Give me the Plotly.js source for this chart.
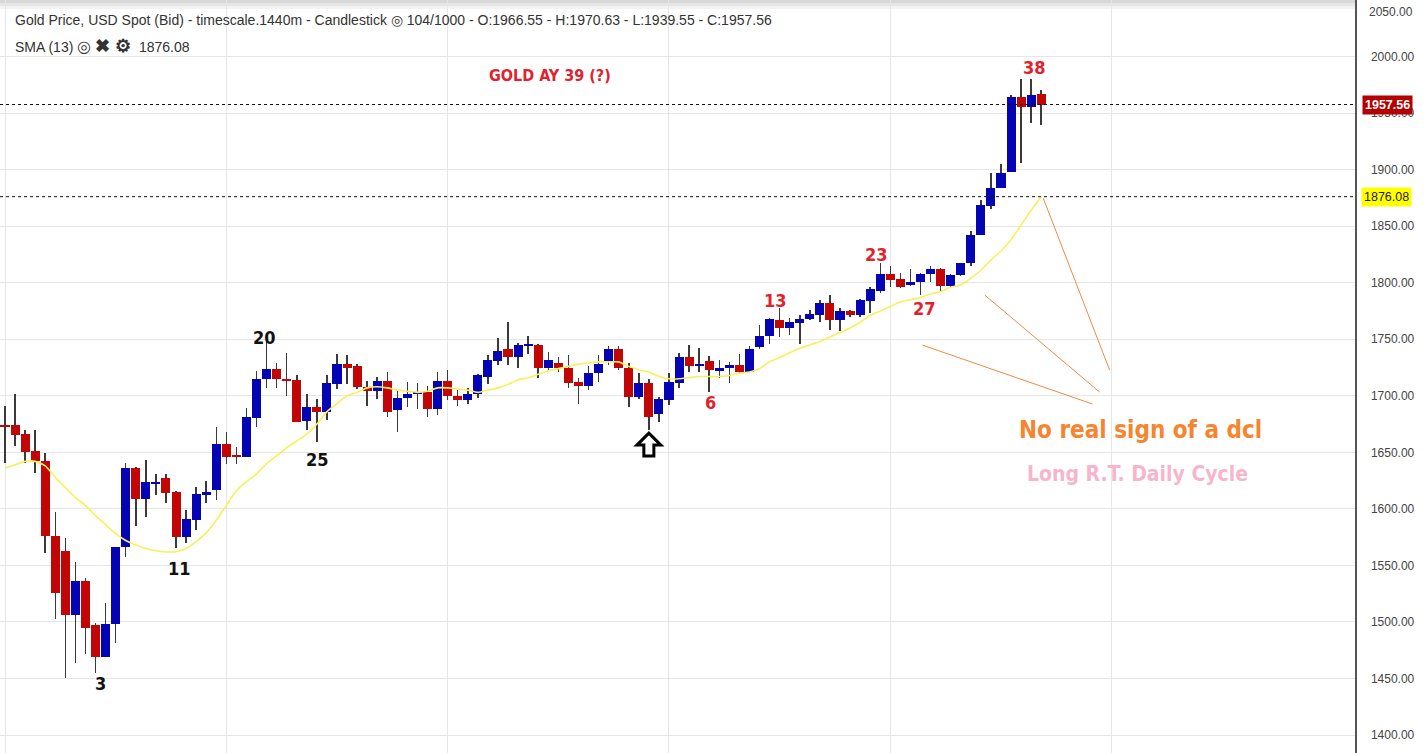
<!DOCTYPE html>
<html>
<head>
<meta charset="utf-8">
<script src="https://cdn.plot.ly/plotly-3.0.1.min.js"></script>
<style>
html,body{margin:0;padding:0;background:#fff;}
#chart{width:1426px;height:753px;}
</style>
</head>
<body>
<div id="chart"></div>
<script>
// ---- Data (daily gold candles, 104 bars) ----
const opens = [1674,1674,1666,1651,1642,1576,1563,1506,1536,1497,1469,1498,1566,1636,1609,1622,1627,1615,1575,1590,
1612,1617,1657,1648,1646,1680,1715,1724,1715,1714,1678,1690,1686,1710,1728,1726,1708,1704,1713,1687,
1698,1702,1703,1688,1713,1700,1696,1702,1717,1731,1741,1734,1744,1745,1725,1729,1725,1712,1709,1720,
1730,1741,1725,1699,1711,1684,1696,1711,1734,1726,1731,1722,1725,1727,1721,1743,1753,1767,1760,1764,
1768,1771,1782,1767,1775,1771,1784,1793,1808,1803,1798,1801,1808,1812,1797,1807,1817,1842,1868,1884,
1898,1964,1955,1966.55];
const highs = [1691,1702,1670,1670,1649,1597,1574,1553,1539,1499,1517,1566,1641,1637,1643,1631,1631,1616,1599,1619,
1625,1672,1668,1655,1689,1722,1755,1729,1738,1718,1702,1697,1718,1737,1736,1728,1713,1717,1721,1705,
1712,1711,1709,1721,1723,1705,1707,1719,1736,1751,1765,1747,1753,1746,1739,1734,1736,1716,1726,1736,
1744,1744,1729,1720,1715,1699,1720,1738,1745,1742,1735,1732,1730,1737,1744,1763,1769,1778,1769,1771,
1776,1785,1789,1778,1776,1786,1796,1817,1815,1809,1812,1809,1815,1813,1808,1817,1846,1873,1897,1905,
1966,1980,1980,1970.63];
const lows = [1641,1656,1641,1632,1561,1503,1450,1464,1472,1455,1469,1481,1557,1585,1593,1612,1605,1565,1570,1581,
1605,1608,1640,1640,1646,1672,1707,1707,1700,1677,1670,1659,1679,1706,1710,1706,1691,1697,1681,1668,
1690,1688,1681,1683,1696,1691,1693,1698,1710,1727,1727,1725,1737,1716,1723,1721,1707,1693,1705,1712,
1727,1723,1690,1697,1670,1677,1692,1707,1721,1721,1703,1716,1711,1720,1721,1741,1746,1752,1754,1746,
1767,1765,1758,1757,1770,1770,1773,1791,1796,1795,1797,1789,1801,1793,1796,1806,1815,1842,1865,1884,
1898,1906,1941,1939.55];
const closes = [1672,1665,1650,1642,1576,1526,1506,1536,1495,1469,1498,1566,1636,1609,1624,1624,1614,1575,1591,1613,
1615,1657,1646,1646,1681,1715,1724,1715,1713,1677,1690,1686,1711,1728,1725,1708,1704,1713,1686,1698,
1702,1703,1688,1713,1700,1696,1702,1718,1732,1740,1734,1745,1746,1725,1732,1725,1711,1709,1720,1728,
1741,1725,1699,1711,1681,1697,1712,1734,1726,1728,1723,1725,1727,1721,1741,1753,1768,1760,1765,1768,
1772,1782,1767,1775,1771,1785,1794,1808,1802,1796,1801,1808,1812,1797,1807,1817,1842,1869,1884,1897,
1964,1955,1966,1957.56];
const sma13 = [1636,1639,1642,1642,1638,1628,1619,1610,1603,1594,1586,1578,1572,1568,1565,1563,1562,1562,1565,1571,
1579,1590,1603,1616,1624,1631,1640,1647,1654,1660,1666,1675,1686,1693,1700,1703,1707,1708,1707,1705,
1704,1703,1704,1707,1707,1706,1705,1703,1705,1707,1710,1714,1716,1719,1722,1724,1726,1728,1729,1730,
1730,1730,1726,1723,1721,1717,1715,1715,1716,1717,1717,1717,1718,1720,1721,1724,1730,1734,1738,1742,
1745,1748,1752,1756,1760,1765,1771,1775,1779,1783,1785,1787,1790,1792,1796,1798,1804,1811,1820,1828,
1838,1851,1864,1876.08];
const yTickValues = [1400,1450,1500,1550,1600,1650,1700,1750,1800,1850,1900,1950,2000];
const yTickLabels = ["1400.00","1450.00","1500.00","1550.00","1600.00","1650.00","1700.00","1750.00","1800.00","1850.00","1900.00","1950.00","2000.00"];
const lastClose = 1957.56;
const lastSma = 1876.08;
const headerLine1 = "Gold Price, USD Spot (Bid) - timescale.1440m - Candlestick &#9678; 104/1000 - O:1966.55 - H:1970.63 - L:1939.55 - C:1957.56";
const headerLine2 = "SMA (13) <span style=\"font-size:16px\">&#9678;</span> <span style=\"font-size:18px\"><b>&#10006; &#9881;</b></span>  1876.08";

// ---- Build traces ----
const idx = opens.map((_, i) => i);
const BLUE = '#0404b4', RED = '#c20606';
const bodyBase = opens.map((o, i) => Math.min(o, closes[i]));
const bodyLen = opens.map((o, i) => Math.max(Math.abs(closes[i] - o), 1.0));
const bodyCol = opens.map((o, i) => closes[i] >= o ? BLUE : RED);

const wicks = {
  type: 'bar', x: idx, base: lows, y: highs.map((h, i) => h - lows[i]),
  width: 0.15, marker: {color: '#3a3a3a', line: {width: 0}}, hoverinfo: 'skip', showlegend: false
};
const bodies = {
  type: 'bar', x: idx, base: bodyBase, y: bodyLen,
  width: 0.9, marker: {color: bodyCol, line: {width: 0}}, hoverinfo: 'skip', showlegend: false
};
const smaTrace = {
  type: 'scatter', mode: 'lines', x: idx, y: sma13,
  line: {color: '#f8f05a', width: 1.6, shape: 'spline', smoothing: 0.6}, hoverinfo: 'skip', showlegend: false
};

const NARROW = '"Liberation Sans Narrow","Arial Narrow","DejaVu Sans Condensed",sans-serif';
const SANS = '"Liberation Sans",Arial,sans-serif';
const RED_TXT = '#e0222e';

function lbl(text, x, y, color, size) {
  return {text: '<b>' + text + '</b>', x: x, y: y, xref: 'x', yref: 'y', showarrow: false,
    font: {family: NARROW, size: size || 18, color: color}, xanchor: 'center', yanchor: 'middle'};
}

const annotations = [
  {text: headerLine1, xref: 'paper', yref: 'paper', x: 0, y: 1, xanchor: 'left', yanchor: 'middle',
   xshift: 13, yshift: -20, showarrow: false, font: {family: SANS, size: 14, color: '#333'}},
  {text: headerLine2, xref: 'paper', yref: 'paper', x: 0, y: 1, xanchor: 'left', yanchor: 'middle',
   xshift: 13, yshift: -46, showarrow: false, font: {family: SANS, size: 14, color: '#333'}},
  {text: '2050.00', xref: 'paper', yref: 'paper', x: 1, y: 1, xanchor: 'left', yanchor: 'middle',
   xshift: 12, yshift: -12, showarrow: false, font: {family: SANS, size: 12, color: '#444'}},
  {text: '<b>GOLD AY 39 (?)</b>', x: 54.2, y: 1983.5, xref: 'x', yref: 'y', showarrow: false,
   font: {family: NARROW, size: 16, color: RED_TXT}},
  lbl('3', 9.5, 1446, '#111'),
  lbl('11', 17.3, 1547.7, '#111'),
  lbl('20', 25.8, 1751.9, '#111'),
  lbl('25', 31.1, 1644.0, '#111'),
  lbl('6', 70.1, 1694.4, RED_TXT),
  lbl('13', 76.6, 1784.6, RED_TXT),
  lbl('23', 86.6, 1825.3, RED_TXT),
  lbl('27', 91.4, 1777.5, RED_TXT),
  lbl('38', 102.3, 1990.6, RED_TXT),
  {text: '<b>No real sign of a dcl</b>', x: 112.9, y: 1669.7, xref: 'x', yref: 'y', showarrow: false,
   font: {family: NARROW, size: 24, color: '#f5852f'}},
  {text: '<b>Long R.T. Daily Cycle</b>', x: 112.6, y: 1630.8, xref: 'x', yref: 'y', showarrow: false,
   font: {family: NARROW, size: 21, color: '#f7b5cc'}},
  {text: lastClose.toFixed(2), xref: 'paper', yref: 'y', x: 1, y: lastClose, xanchor: 'left', yanchor: 'middle',
   xshift: 7, showarrow: false, bgcolor: '#b30000', borderpad: 2,
   font: {family: SANS, size: 12.5, color: '#fff', weight: 'bold'}},
  {text: lastSma.toFixed(2), xref: 'paper', yref: 'y', x: 1, y: lastSma, xanchor: 'left', yanchor: 'middle',
   xshift: 6, showarrow: false, bgcolor: '#ffff00', borderpad: 2,
   font: {family: SANS, size: 12.5, color: '#222'}}
];

const ORANGE = '#ef8a45';
const shapes = [
  // top shadow band
  {type: 'rect', xref: 'paper', yref: 'paper', x0: 0, x1: 1, y0: 1 - 3/753, y1: 1, fillcolor: '#d8d8d8', line: {width: 0}, layer: 'below'},
  {type: 'rect', xref: 'paper', yref: 'paper', x0: 0, x1: 1, y0: 1 - 6/753, y1: 1 - 3/753, fillcolor: '#e6e6e6', line: {width: 0}, layer: 'below'},
  {type: 'rect', xref: 'paper', yref: 'paper', x0: 0, x1: 1, y0: 1 - 9/753, y1: 1 - 6/753, fillcolor: '#f2f2f2', line: {width: 0}, layer: 'below'},
  // price lines
  {type: 'line', xref: 'paper', yref: 'y', x0: 0, x1: 1, y0: lastClose, y1: lastClose, line: {color: '#111', width: 1, dash: '3px,3px'}},
  {type: 'line', xref: 'paper', yref: 'y', x0: 0, x1: 1, y0: lastSma, y1: lastSma, line: {color: '#111', width: 1, dash: '3px,3px'}},
  // orange hand-drawn lines
  {type: 'line', xref: 'x', yref: 'y', x0: 103.2, y0: 1874.8, x1: 109.8, y1: 1722.7, line: {color: ORANGE, width: 1}},
  {type: 'line', xref: 'x', yref: 'y', x0: 97.4, y0: 1789.0, x1: 108.8, y1: 1703.3, line: {color: ORANGE, width: 1}},
  {type: 'line', xref: 'x', yref: 'y', x0: 91.2, y0: 1744.8, x1: 108.1, y1: 1692.7, line: {color: ORANGE, width: 1}},
  // up arrow under the low
  {type: 'path', xref: 'x', yref: 'y', xsizemode: 'pixel', ysizemode: 'pixel', xanchor: 64, yanchor: 1656.4,
   path: 'M 0 12 L 12 0 L 5 0 L 5 -11 L -5 -11 L -5 0 L -12 0 Z', fillcolor: '#fff', line: {color: '#000', width: 3}}
];

const layout = {
  width: 1426, height: 753,
  margin: {l: 0, r: 71, t: 0, b: 0, pad: 0},
  paper_bgcolor: '#fff', plot_bgcolor: '#fff',
  barmode: 'overlay', bargap: 0,
  showlegend: false,
  xaxis: {range: [-0.497, 134.19], tickvals: [0, 22, 44, 66, 88, 110], showticklabels: false,
          showgrid: true, gridcolor: '#e6e6e6', gridwidth: 1, zeroline: false, showline: false, fixedrange: true},
  yaxis: {side: 'right', range: [1384.1, 2050], tickvals: yTickValues, ticktext: yTickLabels,
          showgrid: true, gridcolor: '#e6e6e6', gridwidth: 1, zeroline: false,
          showline: true, linecolor: '#555', linewidth: 1.5, ticks: '', ticklabelstandoff: 12,
          tickfont: {family: SANS, size: 12, color: '#444'}, fixedrange: true},
  annotations: annotations,
  shapes: shapes
};

Plotly.newPlot('chart', [wicks, bodies, smaTrace], layout, {displayModeBar: false, staticPlot: true});
</script>
</body>
</html>
